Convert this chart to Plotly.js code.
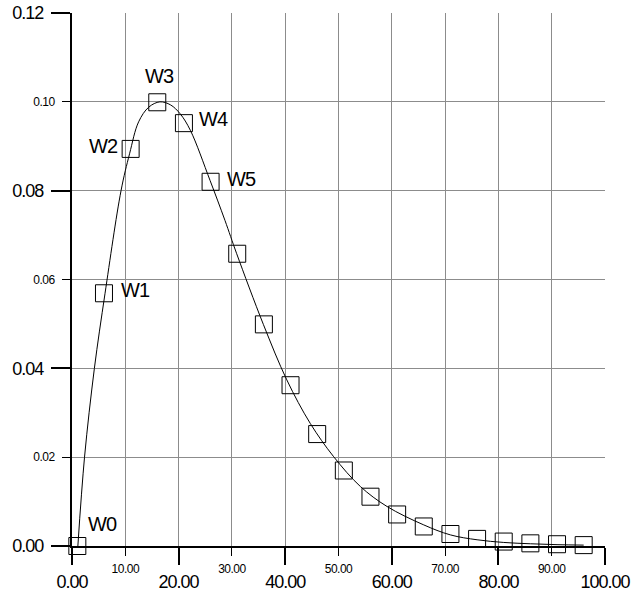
<!DOCTYPE html>
<html>
<head>
<meta charset="utf-8">
<script src="https://cdn.plot.ly/plotly-3.0.1.min.js"></script>
<style>html,body{margin:0;padding:0;background:#fff;}</style>
</head>
<body>
<div id="chart" style="width:631px;height:594px;"></div>
<script>
// Measured points (squares)
const pointX = [1, 6, 11, 16, 21, 26, 31, 36, 41, 46, 51, 56, 61, 66, 71, 76, 81, 86, 91, 96];
const pointY = [0, 0.0569, 0.0894, 0.0999, 0.0952, 0.0820, 0.0658, 0.0499, 0.0362, 0.0252, 0.0170, 0.0111, 0.0071, 0.0044, 0.0027, 0.0016, 0.0010, 0.0006, 0.0004, 0.0002];

// Fitted curve
const curveX = [1.1, 2.35, 4.2, 6.2, 9.2, 10.8, 12.5, 14.4, 16.5, 18.5, 20.3, 22.2, 25.9, 28.7, 30.9, 35.9, 40.3, 44.7, 49.1, 54.1, 59.1, 65.9, 71, 76, 81, 86, 91, 96];
const curveY = [0, 0.020, 0.040, 0.0569, 0.080, 0.0883, 0.0955, 0.0988, 0.1000, 0.0993, 0.0973, 0.0936, 0.0823, 0.0733, 0.0658, 0.0499, 0.0374, 0.0276, 0.0201, 0.0134, 0.0089, 0.0048, 0.0025, 0.0014, 0.0008, 0.0005, 0.0003, 0.0002];

// Point labels
const pointLabels = ["W0", "W1", "W2", "W3", "W4", "W5"];

// Tick labels
const xMajorVals = [0, 20, 40, 60, 80, 100];
const xMajorText = ["0.00", "20.00", "40.00", "60.00", "80.00", "100.00"];
const xMinorVals = [10, 30, 50, 70, 90];
const xMinorText = ["10.00", "30.00", "50.00", "70.00", "90.00"];
const yMajorVals = [0, 0.04, 0.08, 0.12];
const yMajorText = ["0.00", "0.04", "0.08", "0.12"];
const yMinorVals = [0.02, 0.06, 0.10];
const yMinorText = ["0.02", "0.06", "0.10"];

const FONT = "Liberation Sans, Arial, sans-serif";
const GRID = "#8c8c8c";

// condensed look of the original labels
const tight = (arr, ls) => arr.map(t => `<span style="letter-spacing:${ls}px">${t}</span>`);

// label placement offsets (pixels) for each labelled point
const labelStyle = [
  {xanchor: "left",   xshift: 9,   yshift: 22},
  {xanchor: "left",   xshift: 15,  yshift: 3},
  {xanchor: "right",  xshift: -11, yshift: 3},
  {xanchor: "center", xshift: 2,   yshift: 26},
  {xanchor: "left",   xshift: 13,  yshift: 4},
  {xanchor: "left",   xshift: 14,  yshift: 3}
];

const annotations = pointLabels.map((t, i) => ({
  x: pointX[i], y: pointY[i], xref: "x", yref: "y",
  text: `<span style="letter-spacing:-1px">${t}</span>`, showarrow: false,
  xanchor: labelStyle[i].xanchor, yanchor: "middle",
  xshift: labelStyle[i].xshift, yshift: labelStyle[i].yshift,
  font: {family: FONT, size: 20, color: "#000"}
}));

const traces = [
  {
    x: curveX, y: curveY, type: "scatter", mode: "lines",
    line: {color: "#000", width: 1, shape: "spline", smoothing: 1},
    hoverinfo: "skip", showlegend: false
  },
  {
    x: pointX, y: pointY, type: "scatter", mode: "markers",
    marker: {symbol: "square-open", size: 17, color: "#000", line: {width: 1, color: "#000"}},
    showlegend: false, cliponaxis: false
  },
  // empty helper traces so the overlaid minor-label axes get drawn
  {x: [], y: [], xaxis: "x2", yaxis: "y", type: "scatter", mode: "markers", showlegend: false, hoverinfo: "skip"},
  {x: [], y: [], xaxis: "x", yaxis: "y2", type: "scatter", mode: "markers", showlegend: false, hoverinfo: "skip"}
];

const layout = {
  width: 631, height: 594,
  margin: {l: 72, r: 26, t: 13, b: 48, pad: 0},
  paper_bgcolor: "#fff", plot_bgcolor: "#fff",
  showlegend: false,
  font: {family: FONT, color: "#000"},
  xaxis: {
    range: [0, 100], tickmode: "array", tickvals: xMajorVals, ticktext: tight(xMajorText, -1),
    ticks: "outside", ticklen: 17, tickwidth: 2, tickcolor: "#000",
    showline: true, linewidth: 2, linecolor: "#000",
    showgrid: true, gridcolor: GRID, gridwidth: 1, zeroline: false,
    tickfont: {family: FONT, size: 18, color: "#000"},
    ticklabelstandoff: 1, ticklabeloverflow: "allow", fixedrange: true
  },
  xaxis2: {
    overlaying: "x", anchor: "y", side: "bottom",
    range: [0, 100], tickmode: "array", tickvals: xMinorVals, ticktext: tight(xMinorText, -0.5),
    ticks: "outside", ticklen: 9, tickwidth: 1, tickcolor: "#000",
    showline: false, showgrid: true, gridcolor: GRID, gridwidth: 1, zeroline: false,
    tickfont: {family: FONT, size: 12, color: "#000"},
    ticklabelstandoff: 3, ticklabeloverflow: "allow", fixedrange: true
  },
  yaxis: {
    range: [0, 0.12], tickmode: "array", tickvals: yMajorVals, ticktext: tight(yMajorText, -1),
    ticks: "outside", ticklen: 19, tickwidth: 2, tickcolor: "#000",
    showline: true, linewidth: 2, linecolor: "#000",
    showgrid: true, gridcolor: GRID, gridwidth: 1, zeroline: false,
    tickfont: {family: FONT, size: 18, color: "#000"},
    ticklabelstandoff: 4, ticklabeloverflow: "allow", fixedrange: true
  },
  yaxis2: {
    overlaying: "y", anchor: "x", side: "left",
    range: [0, 0.12], tickmode: "array", tickvals: yMinorVals, ticktext: tight(yMinorText, -0.5),
    ticks: "outside", ticklen: 9, tickwidth: 1, tickcolor: "#000",
    showline: false, showgrid: true, gridcolor: GRID, gridwidth: 1, zeroline: false,
    tickfont: {family: FONT, size: 12, color: "#000"},
    ticklabelstandoff: 5, ticklabeloverflow: "allow", fixedrange: true
  },
  annotations: annotations
};

Plotly.newPlot("chart", traces, layout, {staticPlot: true, displayModeBar: false});
</script>
</body>
</html>
